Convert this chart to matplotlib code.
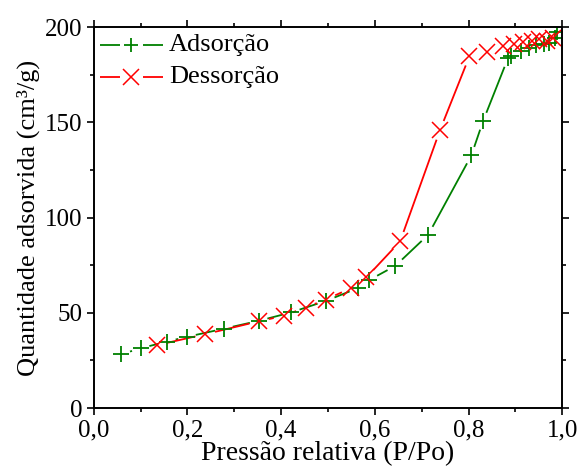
import numpy as np
import matplotlib.pyplot as plt

plt.rcParams['font.family'] = ['Liberation Serif', 'DejaVu Serif']

# isotherm data (relative pressure, adsorbed volume)
p_ads = [0.059, 0.100, 0.156, 0.199, 0.278, 0.352, 0.421, 0.496, 0.564, 0.588,
         0.644, 0.714, 0.806, 0.831, 0.884, 0.890, 0.912, 0.930, 0.945, 0.962,
         0.972, 0.985, 0.988]
q_ads = [28.3, 31.4, 34.9, 37.4, 41.7, 45.8, 50.2, 56.3, 63.0, 67.2,
         74.7, 91.0, 132.6, 150.6, 183.5, 184.7, 187.4, 188.8, 190.5, 191.0,
         191.7, 194.0, 197.5]

p_des = [0.134, 0.238, 0.353, 0.405, 0.452, 0.496, 0.549, 0.582, 0.654, 0.739,
         0.802, 0.839, 0.874, 0.898, 0.917, 0.935, 0.951, 0.967, 0.980]
q_des = [33.0, 38.8, 45.6, 48.4, 52.8, 57.0, 63.0, 68.6, 87.5, 145.8,
         184.7, 187.0, 190.0, 191.0, 192.3, 192.8, 193.5, 192.8, 194.0]

labels = ['Adsorção', 'Dessorção']
green = '#008000'
red = '#ff0000'

fig = plt.figure(figsize=(5.79, 4.74), dpi=100)
ax = fig.add_axes([0.162, 0.139, 0.809, 0.804])
ax.set_xlim(0, 1.0)
ax.set_ylim(0, 200)


def gapped_line(x, y, color, gap):
    # connect points but leave a small gap around each symbol
    pts = ax.transData.transform(np.column_stack([x, y]))
    inv = ax.transData.inverted()
    for a, b in zip(pts[:-1], pts[1:]):
        d = b - a
        L = np.hypot(*d)
        if L <= 2 * gap:
            continue
        u = d / L
        seg = inv.transform(np.array([a + u * gap, b - u * gap]))
        ax.plot(seg[:, 0], seg[:, 1], color=color, lw=1.3, solid_capstyle='butt')


gapped_line(p_ads, q_ads, green, 9)
gapped_line(p_des, q_des, red, 10)
ax.plot(p_ads, q_ads, ls='none', marker='+', ms=11, mew=1.3, color=green)
ax.plot(p_des, q_des, ls='none', marker='x', ms=12, mew=1.1, color=red)

ax.set_xticks([0, 0.2, 0.4, 0.6, 0.8, 1.0])
ax.set_xticklabels(['0,0', '0,2', '0,4', '0,6', '0,8', '1,0'])
ax.set_xticks([0.1, 0.3, 0.5, 0.7, 0.9], minor=True)
ax.set_yticks([0, 50, 100, 150, 200])
ax.set_yticks([25, 75, 125, 175], minor=True)

ax.tick_params(which='both', direction='out', labelsize=18, width=1.2,
               top=True, right=True, pad=3)
ax.tick_params(which='major', length=5)
ax.tick_params(which='minor', length=3)
for s in ax.spines.values():
    s.set_linewidth(1.4)

ax.set_xlabel('Pressão relativa (P/Po)', fontsize=20, labelpad=0)
ax.set_ylabel('Quantidade adsorvida (cm³/g)', fontsize=19, labelpad=4)

# legend drawn by hand: line - symbol - line, then the label
tr = ax.transAxes
for y, col, mk, ms, mew, txt in [(0.953, green, '+', 10, 1.3, labels[0]),
                                 (0.869, red, 'x', 11, 1.1, labels[1])]:
    ax.plot([0.013, 0.055], [y, y], color=col, lw=1.3, transform=tr,
            solid_capstyle='butt')
    ax.plot([0.106, 0.147], [y, y], color=col, lw=1.3, transform=tr,
            solid_capstyle='butt')
    ax.plot([0.080], [y], ls='none', marker=mk, ms=ms, mew=mew, color=col,
            transform=tr)
    ax.text(0.16, y, txt, fontsize=19, va='center', ha='left', transform=tr)

fig.savefig('out.png', dpi=100)
